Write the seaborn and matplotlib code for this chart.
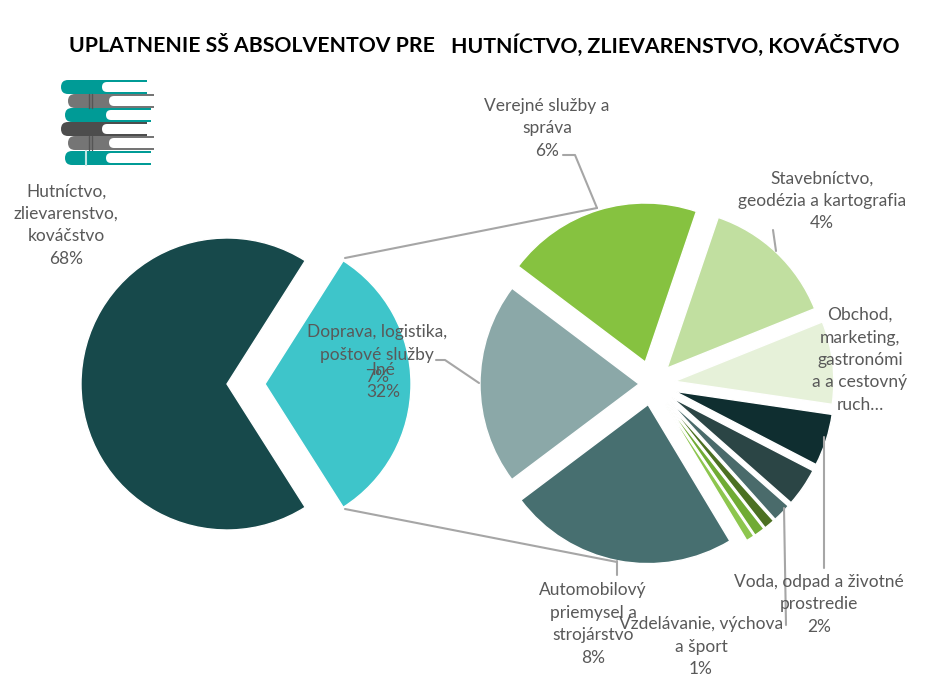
import seaborn as sns
import matplotlib.pyplot as plt
from matplotlib.patches import FancyBboxPatch, Rectangle

sns.set_theme(style="white")
plt.rcParams['font.family'] = ['Lato', 'DejaVu Sans']

# main pie values (percent)
main_names = ['Iné', 'Hutníctvo, zlievarenstvo, kováčstvo']
main_values = [32, 68]

# detail pie values, clockwise starting at the automotive slice
sub_names = ['Automobilový priemysel a strojárstvo', 'Doprava, logistika, poštové služby',
             'Verejné služby a správa', 'Stavebníctvo, geodézia a kartografia',
             'Obchod, marketing, gastronómia a cestovný ruch', 'Voda, odpad a životné prostredie',
             'Iné 1', 'Vzdelávanie, výchova a šport', 'Iné 2', 'Iné 3', 'Iné 4']
sub_values = [7.5, 6.6, 6.4, 4.4, 2.7, 1.7, 1.25, 0.6, 0.35, 0.35, 0.27]

main_colors = sns.color_palette(['#3EC5CA', '#17494B'])
sub_colors = sns.color_palette(['#476F70', '#8BA8A8', '#86C240', '#C1DFA0', '#E6F1D9', '#0F2E30',
                                '#2B4545', '#4A6B6B', '#4C7022', '#70AB34', '#8DC64E'])

H = 683
GREY = '#595959'
LINE = '#A6A6A6'


def py(y):
    # picture rows count from the top
    return H - y


fig = plt.figure(figsize=(9.43, 6.83), dpi=100)
ax = fig.add_axes([0, 0, 1, 1])

#--------Pies---------------
ax.pie(main_values, colors=main_colors, radius=146, center=(246, py(384)), explode=[19, 19],
       startangle=57.6, counterclock=False, frame=True)
ax.pie(sub_values, colors=sub_colors, radius=159, center=(652, py(384)),
       explode=[21, 13, 23, 22, 23, 24, 24, 24, 24, 24, 24],
       startangle=-59, counterclock=False, frame=True)
ax.set_xlim(0, 943)
ax.set_ylim(0, H)
ax.set_aspect('equal')
ax.axis('off')

#--------Leader lines-------
leaders = [
    [(345, 258), (597, 208)],
    [(345, 509), (617, 562)],
    [(563, 155), (575, 155), (597, 208)],
    [(773, 230), (776, 251)],
    [(436, 360), (445, 360), (479, 383)],
    [(617, 561), (617, 575)],
    [(824, 437), (824, 568)],
    [(784, 508), (786, 625)],
]
for pts in leaders:
    ax.plot([p[0] for p in pts], [py(p[1]) for p in pts], color=LINE, lw=1.5, zorder=1)

#--------Labels-------------
labels = [
    ('Hutníctvo,\nzlievarenstvo,\nkováčstvo\n68%', 66, 225),
    ('Verejné služby a\nspráva\n6%', 547, 128),
    ('Stavebníctvo,\ngeodézia a kartografia\n4%', 822, 201),
    ('Obchod,\nmarketing,\ngastronómi\na a cestovný\nruch…', 860, 360),
    ('Doprava, logistika,\npoštové služby\n7%', 377, 355),
    ('Iné\n32%', 383, 381),
    ('Automobilový\npriemysel a\nstrojárstvo\n8%', 593, 624),
    ('Voda, odpad a životné\nprostredie\n2%', 819, 604),
    ('Vzdelávanie, výchova\na šport\n1%', 701, 647),
]
for txt, x, y in labels:
    ax.text(x, py(y), txt, color=GREY, fontsize=12.5, ha='center', va='center', linespacing=1.5, zorder=5)

ax.text(69, py(46), 'UPLATNENIE SŠ ABSOLVENTOV PRE', color='black', fontsize=15.3, fontweight='bold', va='center')
ax.text(451, py(46), 'HUTNÍCTVO, ZLIEVARENSTVO, KOVÁČSTVO', color='black', fontsize=15.3, fontweight='bold', va='center')

#--------Book stack icon----
books = [
    (61, 80, '#009B96', False),
    (68, 94, '#757575', True),
    (65, 108, '#009B96', False),
    (61, 122, '#4D4D4D', False),
    (68, 136, '#757575', True),
    (65, 151, '#009B96', False),
]
for x0, y0, col, stripes in books:
    ax.add_patch(FancyBboxPatch((x0, py(y0 + 14)), 50, 14, boxstyle='round,pad=0,rounding_size=7',
                                fc=col, ec='none', zorder=2))
    ax.add_patch(Rectangle((x0 + 30, py(y0 + 14)), 56, 14, fc=col, ec='none', zorder=2))
    ax.add_patch(FancyBboxPatch((x0 + 41, py(y0 + 12)), 30, 10, boxstyle='round,pad=0,rounding_size=5',
                                fc='white', ec='none', zorder=3))
    ax.add_patch(Rectangle((x0 + 50, py(y0 + 12)), 37, 10, fc='white', ec='none', zorder=3))
    if stripes:
        ax.plot([x0 + 21] * 2, [py(y0), py(y0 + 14)], color='#555555', lw=1, zorder=4)
        ax.plot([x0 + 24] * 2, [py(y0), py(y0 + 14)], color='#555555', lw=1, zorder=4)
ax.plot([85.5] * 2, [py(151), py(165)], color='#BFE6E4', lw=1.5, zorder=4)

plt.savefig('out.png', dpi=100)
